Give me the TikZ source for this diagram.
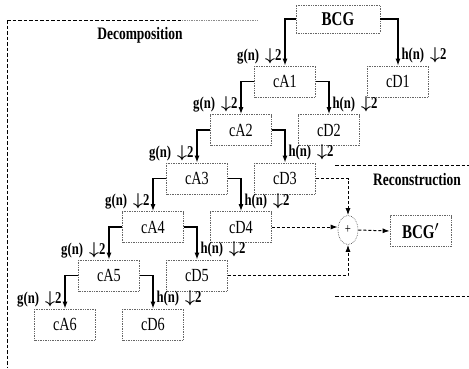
\documentclass[tikz,border=0pt]{standalone}
\usepackage{amsmath}
\usepackage{fontspec}
\setmainfont{Liberation Serif}[FakeStretch=0.77]
\usetikzlibrary{arrows.meta, shapes.geometric, positioning, calc}

\newcommand{\lowband}{g(n)\hspace{6pt}$\boldsymbol{\downarrow}$2}
\newcommand{\highband}{h(n)\hspace{6pt}$\boldsymbol{\downarrow}$2}

\begin{document}
\begin{tikzpicture}[x=1pt, y=-1pt,
    coef/.style={draw=black!60, densely dotted, line width=0.7pt,
                 minimum width=61pt, minimum height=31pt, inner sep=0pt,
                 font=\fontsize{18.5}{18.5}\selectfont},
    sumnode/.style={ellipse, draw=black!60, densely dotted, line width=0.7pt,
                 minimum width=20pt, minimum height=29pt, inner sep=0pt,
                 font=\fontsize{14}{14}\selectfont},
    title/.style={font=\fontsize{17.5}{17.5}\selectfont\bfseries},
    glbl/.style={anchor=south east, xshift=-3pt, yshift=1pt, inner sep=0pt,
                 font=\fontsize{16.5}{16.5}\selectfont\bfseries},
    hlbl/.style={anchor=south west, xshift=3pt, yshift=2pt, inner sep=0pt,
                 font=\fontsize{16.5}{16.5}\selectfont\bfseries},
    arr/.style={-{Latex[length=7pt,width=5pt]}, line width=1.2pt},
    darr/.style={-{Latex[length=7pt,width=5pt]}, line width=1pt,
                 dash pattern=on 3pt off 2pt},
    frame/.style={line width=1pt, dash pattern=on 3.5pt off 2pt}
  ]
    \useasboundingbox (0,0) rectangle (469,368);

    % frames
    \draw[frame] (7,20) -- (182,20);
    \draw[densely dotted, black!45, line width=0.7pt] (182,20) -- (258,20);
    \draw[frame] (7,20) -- (7,368);
    \draw[frame] (335,165) -- (469,165);
    \draw[frame] (335,296) -- (469,296);
    \node[title] (dec) at (140,35) {Decomposition};
    \node[title] (rec) at (417,180) {Reconstruction};

    % decomposition tree
    \node[coef, minimum width=84pt, minimum height=28pt,
          font=\fontsize{19.5}{19.5}\selectfont\bfseries] (bcg) at (338,19) {BCG};
    \node[coef] (cA1) at (285,81.5) {cA1};
    \node[coef] (cD1) at (398,81.5) {cD1};
    \node[coef] (cA2) at (241,130) {cA2};
    \node[coef] (cD2) at (329,130) {cD2};
    \node[coef] (cA3) at (197,178.5) {cA3};
    \node[coef] (cD3) at (285,178.5) {cD3};
    \node[coef] (cA4) at (153,227) {cA4};
    \node[coef] (cD4) at (241,227) {cD4};
    \node[coef] (cA5) at (109,275.5) {cA5};
    \node[coef] (cD5) at (197,275.5) {cD5};
    \node[coef] (cA6) at (65,324.5) {cA6};
    \node[coef] (cD6) at (153,324.5) {cD6};

    \draw[arr] (bcg.west) -| (cA1.north) node[glbl] (g1) {\lowband};
    \draw[arr] (bcg.east) -| (cD1.north) node[hlbl] (h1) {\highband};
    \draw[arr] (cA1.west) -| (cA2.north) node[glbl] (g2) {\lowband};
    \draw[arr] (cA1.east) -| (cD2.north) node[hlbl] (h2) {\highband};
    \draw[arr] (cA2.west) -| (cA3.north) node[glbl] (g3) {\lowband};
    \draw[arr] (cA2.east) -| (cD3.north) node[hlbl] (h3) {\highband};
    \draw[arr] (cA3.west) -| (cA4.north) node[glbl] (g4) {\lowband};
    \draw[arr] (cA3.east) -| (cD4.north) node[hlbl] (h4) {\highband};
    \draw[arr] (cA4.west) -| (cA5.north) node[glbl] (g5) {\lowband};
    \draw[arr] (cA4.east) -| (cD5.north) node[hlbl] (h5) {\highband};
    \draw[arr] (cA5.west) -| (cA6.north) node[glbl] (g6) {\lowband};
    \draw[arr] (cA5.east) -| (cD6.north) node[hlbl] (h6) {\highband};

    % reconstruction
    \node[sumnode] (sum) at (348,230) {+};
    \node[coef, font=\fontsize{19.5}{19.5}\selectfont\bfseries] (bcgr) at (420.5,231) {BCG$'$};

    \draw[darr] (cD3.east) -| (sum.north);
    \draw[darr] (cD4.east) -- (cD4.east -| sum.west);
    \draw[darr] (cD5.east) -| (sum.south);
    \draw[darr] (sum.east) -- (bcgr.west);
  \end{tikzpicture}
\end{document}
